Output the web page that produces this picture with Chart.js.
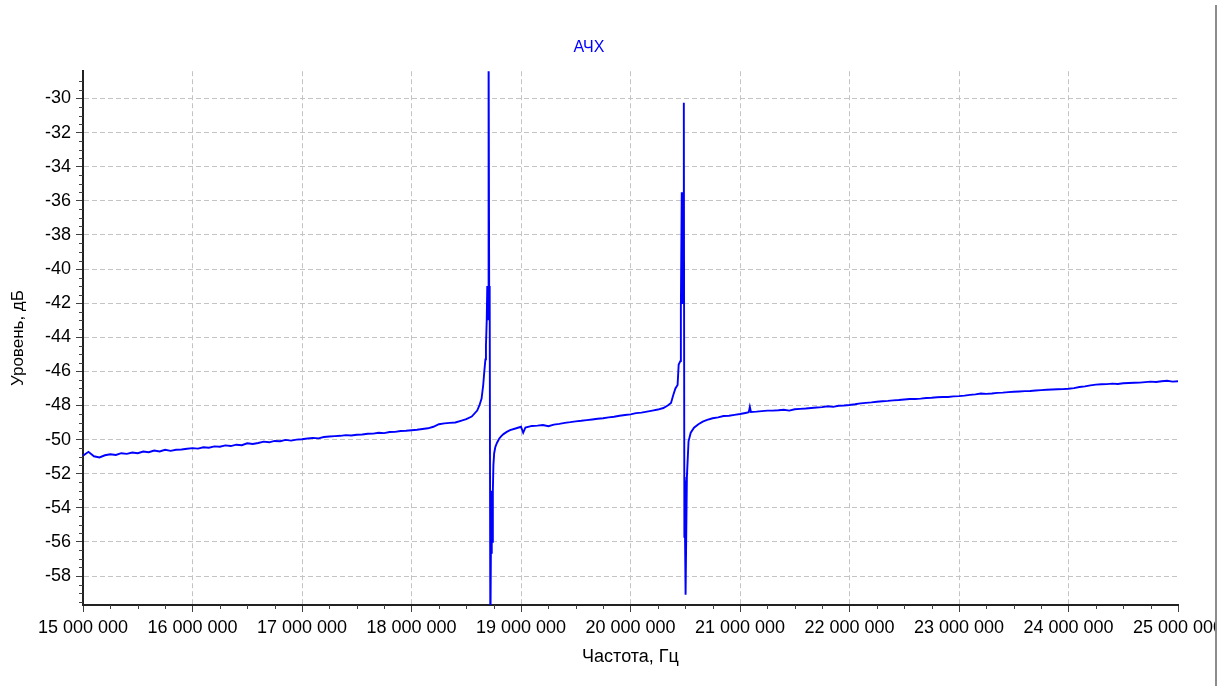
<!DOCTYPE html>
<html>
<head>
<meta charset="utf-8">
<script src="https://cdn.jsdelivr.net/npm/chart.js@4"></script>
<style>
  html, body { margin: 0; padding: 0; background: #fff; }
  #wrap { position: relative; width: 1229px; height: 686px; }
  #edge { position: absolute; left: 1215px; top: 0; width: 14px; height: 686px; background: #fff; }
  #edge-line { position: absolute; left: 1215px; top: 5px; width: 2px; height: 681px; background: #8c8c8c; }
</style>
</head>
<body>
<div id="wrap">
  <canvas id="afc"></canvas>
  <div id="edge"></div>
  <div id="edge-line"></div>
</div>
<script>
// frequency, MHz
const freqMHz = [
  15.00, 15.05, 15.10, 15.15, 15.20, 15.25, 15.30, 15.35, 15.40, 15.45,
  15.50, 15.55, 15.60, 15.65, 15.70, 15.75, 15.80, 15.85, 15.90, 15.95,
  16.00, 16.05, 16.10, 16.15, 16.20, 16.25, 16.30, 16.35, 16.40, 16.45,
  16.50, 16.55, 16.60, 16.65, 16.70, 16.75, 16.80, 16.85, 16.90, 16.95,
  17.00, 17.05, 17.10, 17.15, 17.20, 17.25, 17.30, 17.35, 17.40, 17.45,
  17.50, 17.55, 17.60, 17.65, 17.70, 17.75, 17.80, 17.85, 17.90, 17.95,
  18.00, 18.05, 18.10, 18.15, 18.20, 18.25, 18.30, 18.35, 18.40, 18.45,
  18.50, 18.55, 18.60, 18.62, 18.64, 18.655, 18.665, 18.675, 18.68, 18.687,
  18.692, 18.697, 18.700, 18.704, 18.710, 18.714, 18.720, 18.727, 18.731, 18.735,
  18.739, 18.743, 18.748, 18.755, 18.765, 18.78, 18.80, 18.82, 18.84, 18.87,
  18.90, 18.95, 19.00, 19.02, 19.04, 19.10, 19.15, 19.20, 19.25, 19.30,
  19.35, 19.40, 19.45, 19.50, 19.55, 19.60, 19.65, 19.70, 19.75, 19.80,
  19.85, 19.90, 19.95, 20.00, 20.05, 20.10, 20.15, 20.20, 20.25, 20.30,
  20.34, 20.37, 20.39, 20.41, 20.43, 20.44, 20.455, 20.46, 20.468, 20.472,
  20.476, 20.48, 20.487, 20.492, 20.495, 20.498, 20.501, 20.505, 20.515, 20.53,
  20.55, 20.58, 20.62, 20.66, 20.70, 20.75, 20.80, 20.85, 20.90, 20.95,
  21.00, 21.05, 21.08, 21.09, 21.10, 21.15, 21.20, 21.25, 21.30, 21.35,
  21.40, 21.45, 21.50, 21.55, 21.60, 21.65, 21.70, 21.75, 21.80, 21.85,
  21.90, 21.95, 22.00, 22.05, 22.10, 22.15, 22.20, 22.25, 22.30, 22.35,
  22.40, 22.45, 22.50, 22.55, 22.60, 22.65, 22.70, 22.75, 22.80, 22.85,
  22.90, 22.95, 23.00, 23.05, 23.10, 23.15, 23.20, 23.25, 23.30, 23.35,
  23.40, 23.45, 23.50, 23.55, 23.60, 23.65, 23.70, 23.75, 23.80, 23.85,
  23.90, 23.95, 24.00, 24.05, 24.10, 24.15, 24.20, 24.25, 24.30, 24.35,
  24.40, 24.45, 24.50, 24.55, 24.60, 24.65, 24.70, 24.75, 24.80, 24.85,
  24.90, 24.95, 25.00
];

// level, dB
const levelDb = [
  -50.95, -50.72, -50.98, -51.05, -50.92, -50.86, -50.90, -50.80, -50.84, -50.76,
  -50.80, -50.70, -50.74, -50.64, -50.70, -50.60, -50.66, -50.60, -50.58, -50.54,
  -50.50, -50.53, -50.45, -50.48, -50.40, -50.42, -50.34, -50.38, -50.30, -50.33,
  -50.22, -50.26, -50.20, -50.12, -50.16, -50.08, -50.10, -50.02, -50.06, -50.00,
  -49.98, -49.94, -49.90, -49.93, -49.85, -49.82, -49.80, -49.78, -49.74, -49.76,
  -49.72, -49.70, -49.66, -49.65, -49.60, -49.62, -49.56, -49.55, -49.50, -49.48,
  -49.45, -49.42, -49.38, -49.34, -49.25, -49.10, -49.05, -49.02, -49.00, -48.90,
  -48.80, -48.65, -48.30, -48.00, -47.60, -46.80, -46.00, -45.30, -44.50, -43.00,
  -41.00, -43.00, -41.20, -26.00, -42.50, -41.00, -62.00, -54.50, -56.70, -53.00,
  -56.00, -53.00, -51.50, -50.80, -50.45, -50.20, -49.95, -49.80, -49.68, -49.55,
  -49.45, -49.35, -49.25, -49.60, -49.30, -49.20, -49.18, -49.15, -49.22, -49.12,
  -49.08, -49.02, -48.98, -48.93, -48.90, -48.86, -48.82, -48.78, -48.75, -48.70,
  -48.66, -48.60, -48.56, -48.52, -48.45, -48.42, -48.36, -48.30, -48.24, -48.15,
  -48.00, -47.85, -47.40, -47.00, -46.80, -45.60, -45.40, -42.30, -35.50, -42.00,
  -35.50, -41.00, -30.25, -55.70, -52.20, -55.70, -52.40, -59.10, -52.20, -50.10,
  -49.60, -49.30, -49.10, -48.95, -48.85, -48.75, -48.70, -48.62, -48.60, -48.55,
  -48.50, -48.44, -48.40, -48.08, -48.38, -48.36, -48.33, -48.30, -48.30, -48.28,
  -48.25, -48.30, -48.22, -48.20, -48.18, -48.15, -48.12, -48.10, -48.05, -48.08,
  -48.02, -48.00, -47.97, -47.93, -47.88, -47.85, -47.82, -47.78, -47.75, -47.73,
  -47.70, -47.68, -47.65, -47.62, -47.62, -47.60, -47.56, -47.55, -47.52, -47.50,
  -47.50, -47.47, -47.45, -47.42, -47.38, -47.35, -47.30, -47.32, -47.30, -47.26,
  -47.25, -47.22, -47.20, -47.18, -47.16, -47.15, -47.12, -47.10, -47.08, -47.06,
  -47.05, -47.04, -47.02, -46.98, -46.92, -46.88, -46.82, -46.78, -46.76, -46.75,
  -46.72, -46.74, -46.70, -46.68, -46.67, -46.66, -46.63, -46.60, -46.62, -46.58,
  -46.55, -46.60, -46.58
];

const xTicks = [15e6, 16e6, 17e6, 18e6, 19e6, 20e6, 21e6, 22e6, 23e6, 24e6, 25e6];
const yTicks = [-58, -56, -54, -52, -50, -48, -46, -44, -42, -40, -38, -36, -34, -32, -30];

const X_MIN = 15e6, X_MAX = 25e6;
const Y_MIN = -59.7, Y_MAX = -28.4;
const FONT = '"Liberation Sans", Arial, sans-serif';

const points = freqMHz.map((f, i) => ({ x: f * 1e6, y: levelDb[i] }));

const fmtHz = (v) => String(Math.round(v)).replace(/\B(?=(\d{3})+(?!\d))/g, " ");

// short ticks between the labelled ones
const minorTicks = {
  id: "minorTicks",
  afterDraw(chart) {
    const { ctx, scales: { x, y } } = chart;
    ctx.save();
    ctx.strokeStyle = "#404040";
    ctx.lineWidth = 1;
    ctx.beginPath();
    for (let i = 0; i <= 40; i++) {
      if (i % 4 === 0) continue;
      const px = Math.round(x.getPixelForValue(X_MIN + i * 250000)) + 0.5;
      ctx.moveTo(px, y.bottom);
      ctx.lineTo(px, y.bottom + 4);
    }
    for (let i = 1; i <= 62; i++) {
      const v = -59.5 + (i - 1) * 0.5;
      if (v > Y_MAX) break;
      if (Number.isInteger(v) && v % 2 === 0) continue;
      const py = Math.round(y.getPixelForValue(v)) + 0.5;
      ctx.moveTo(x.left, py);
      ctx.lineTo(x.left - 4, py);
    }
    ctx.stroke();
    ctx.restore();
  },
};

new Chart(document.getElementById("afc"), {
  type: "line",
  data: {
    datasets: [
      {
        label: "АЧХ",
        data: points,
        borderColor: "#0000ff",
        borderWidth: 1.9,
        pointRadius: 0,
        tension: 0,
        fill: false,
      },
    ],
  },
  options: {
    responsive: true,
    maintainAspectRatio: false,
    animation: false,
    layout: { padding: { left: 0, right: 51, top: 0, bottom: 0 } },
    scales: {
      x: {
        type: "linear",
        min: X_MIN,
        max: X_MAX,
        afterBuildTicks: (scale) => { scale.ticks = xTicks.map((v) => ({ value: v })); },
        afterFit: (scale) => { scale.height = 81; },
        ticks: {
          autoSkip: false,
          maxRotation: 0,
          padding: 5,
          color: "#000",
          font: { family: FONT, size: 18 },
          callback: (v) => fmtHz(v),
        },
        grid: {
          color: (c) => (c.tick && (c.tick.value === X_MAX || c.tick.value === X_MIN) ? "rgba(0,0,0,0)" : "#c4c4c4"),
          lineWidth: 1,
          tickColor: "#404040",
          tickLength: 7,
        },
        border: { color: "#222", width: 2, dash: [5, 3] },
        title: {
          display: true,
          text: "Частота, Гц",
          color: "#000",
          font: { family: FONT, size: 18 },
          padding: { top: 0, bottom: 18 },
        },
      },
      y: {
        min: Y_MIN,
        max: Y_MAX,
        afterBuildTicks: (scale) => { scale.ticks = yTicks.map((v) => ({ value: v })); },
        afterFit: (scale) => { scale.width = 83; },
        ticks: {
          padding: 5,
          color: "#000",
          font: { family: FONT, size: 18 },
        },
        grid: {
          color: "#c4c4c4",
          lineWidth: 1,
          tickColor: "#404040",
          tickLength: 7,
        },
        border: { color: "#222", width: 2, dash: [5, 3] },
        title: {
          display: true,
          text: "Уровень, дБ",
          color: "#000",
          font: { family: FONT, size: 17 },
          padding: { top: 8, bottom: 0 },
        },
      },
    },
    plugins: {
      legend: { display: false },
      tooltip: { enabled: false },
      title: {
        display: true,
        text: "АЧХ",
        color: "#0000ff",
        font: { family: FONT, size: 16, weight: "normal" },
        padding: { top: 38, bottom: 14 },
      },
    },
  },
  plugins: [minorTicks],
});
</script>
</body>
</html>
